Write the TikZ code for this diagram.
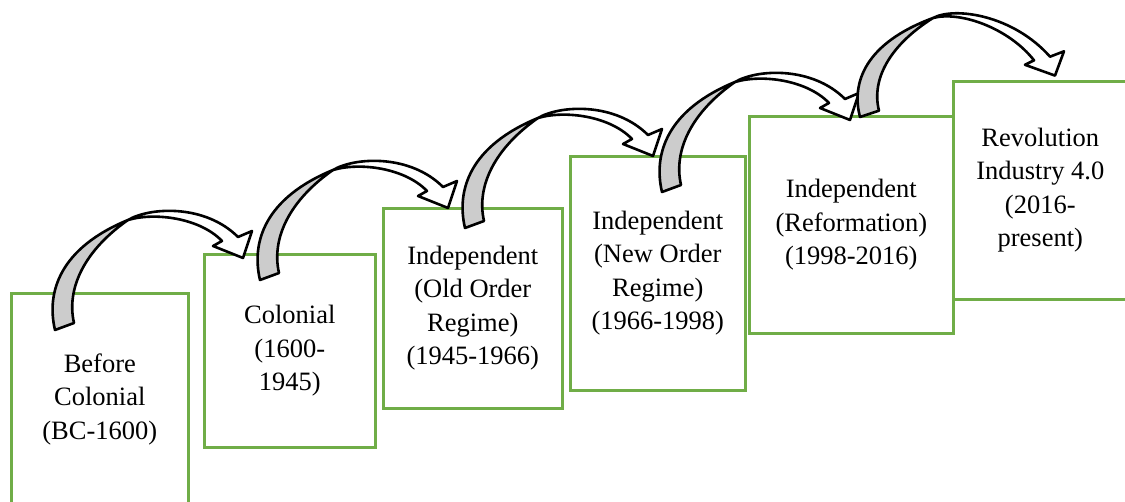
\documentclass[tikz,border=0pt]{standalone}
\usepackage{fontspec}
\setmainfont{Liberation Serif}
\usepackage{tikz}
\usetikzlibrary{positioning}
\definecolor{boxgreen}{RGB}{112,173,71}
\definecolor{arrowgray}{RGB}{204,204,204}
\tikzstyle{era}=[%
      rectangle, draw=boxgreen, line width=1.3pt, fill=none, anchor=north west,
      align=center, inner sep=2pt, font=\rmfamily\fontsize{13.25}{16.75}\selectfont
]
\tikzstyle{arw}=[%
      draw=black, line width=1.3pt, line join=round
]
\tikzset{pics/curvarrow/.style 2 args={code={
  % under side of the ribbon
  \filldraw[arw, fill=arrowgray] (0,0) .. controls (-9,-38) and (5,-82) .. (73,-110)
      .. controls (30,-80) and (11,-42) .. (19,-7) -- cycle;
  % upper band with the head
  \filldraw[arw, fill=white] (73,-110) .. controls (95,-123) and ({150+#1/2},{-126+#2/2}) .. ({183+#1},{-93+#2})
      -- ({197+#1},{-99+#2}) -- ({188+#1},{-72+#2}) -- ({158+#1},{-84+#2}) -- ({167+#1},{-89+#2})
      .. controls ({145+#1/2},{-112+#2/2}) and (100,-118) .. (73,-110) -- cycle;
}}}

\begin{document}
\begin{tikzpicture}[x=0.5pt, y=-0.5pt]
    \useasboundingbox (0,0) rectangle (1125,502);

    \node[era, minimum width=88.5pt, minimum height=106pt]   (1) at (10,292)  {Before\\Colonial\\(BC-1600)};
    \node[era, minimum width=85.5pt, minimum height=96.5pt]  (2) at (203,253) {Colonial\\(1600-\\1945)};
    \node[era, minimum width=89.5pt, minimum height=100pt]   (3) at (382,207) {Independent\\(Old Order\\Regime)\\(1945-1966)};
    \node[era, minimum width=87.5pt, minimum height=117pt]   (4) at (569,155) {Independent\\(New Order\\Regime)\\(1966-1998)};
    \node[era, minimum width=102pt, minimum height=108.5pt]  (5) at (748,115) {Independent\\(Reformation)\\(1998-2016)};
    \node[era, minimum width=87pt, minimum height=109pt]     (6) at (952,80)  {Revolution\\Industry 4.0\\(2016-\\present)};

    \pic at (55,330)  {curvarrow={0}{0}};
    \pic at (260,280) {curvarrow={0}{0}};
    \pic at (465,228) {curvarrow={0}{0}};
    \pic at (662,192) {curvarrow={0}{0}};
    \pic[yscale=0.9] at (860,117) {curvarrow={7}{26}};
\end{tikzpicture}
\end{document}
